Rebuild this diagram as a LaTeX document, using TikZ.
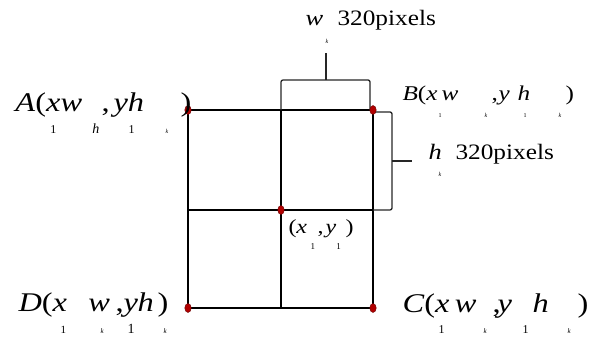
\documentclass[tikz,border=0pt]{standalone}
\usepackage{fontspec}
\usepackage{graphicx}
\setmainfont{Liberation Serif}
\newcommand\hs[1]{\scalebox{1.2}[1]{#1}}
\newcommand\putat[2]{\makebox[0pt][l]{\hspace*{#1}#2}}
% \lo{dx}{drop}{size}{text}
\newcommand\lo[4]{\putat{#1}{\raisebox{-#2}{\fontsize{#3}{#3}\selectfont #4}}}
\tikzset{
  gridline/.style={line width=1.5pt, black},
  braceline/.style={line width=1.3pt, black!85, rounded corners=2pt},
  dot/.style={ellipse, draw=red!40!black, fill=red!70!black, minimum width=6.5pt, minimum height=9pt, inner sep=0pt},
  lbl/.style={anchor=base west, inner sep=0pt, outer sep=0pt, text=black},
}
\usetikzlibrary{shapes.geometric}
\begin{document}
\begin{tikzpicture}[x=1pt,y=-1pt]
\useasboundingbox (0,0) rectangle (591,339);
% corners
\coordinate (A) at (188,110);
\coordinate (B) at (373,110);
\coordinate (C) at (373,308);
\coordinate (D) at (188,308);
\coordinate (T) at (281,110);
\coordinate (Bo) at (281,308);
\coordinate (L) at (188,210);
\coordinate (R) at (373,210);
\coordinate (M) at (281,210);
\draw[gridline] (A) rectangle (C);
\draw[gridline] (T) -- (Bo);
\draw[gridline] (L) -- (R);
% top brace
\coordinate (tbR) at (370,110);
\coordinate (tbM) at (326,80);
\coordinate (tbS) at (326,53);
\draw[braceline] (T) |- (tbM) -| (tbR);
\draw[braceline] (tbM) -- (tbS);
% right brace
\coordinate (rbT) at (373,112);
\coordinate (rbM) at (392,161);
\coordinate (rbS) at (412,161);
\draw[braceline] (rbT) -| (rbM) |- (R);
\draw[braceline, rounded corners=0pt] (rbM) -- (rbS);
% dots
\node[dot] (dA) at (A) {};
\node[dot] (dB) at (B) {};
\node[dot] (dC) at (C) {};
\node[dot] (dD) at (D) {};
\node[dot] (dM) at (M) {};
% labels
\node[lbl] (labA) at (15,112) {\fontsize{27}{27}\selectfont
  \putat{0pt}{\hs{\textit{A}(\textit{xw}}}\putat{86pt}{\hs{,}}\putat{98pt}{\hs{\textit{yh}}}\putat{165pt}{\hs{)}}%
  \lo{35pt}{22pt}{12}{1}\lo{77pt}{22pt}{14}{\textit{h}}\lo{113pt}{22pt}{12}{1}\lo{150pt}{22pt}{6}{\textit{k}}};
\node[lbl] (labB) at (402,101) {\fontsize{21}{21}\selectfont
  \putat{0pt}{\hs{\textit{B}(\textit{x\,w}}}\putat{89pt}{\hs{,}}\putat{96pt}{\hs{\textit{y}}}\putat{115pt}{\hs{\textit{h}}}\putat{163pt}{\hs{)}}%
  \lo{36pt}{17pt}{6}{1}\lo{82pt}{17pt}{6}{\textit{k}}\lo{121pt}{17pt}{6}{1}\lo{156pt}{17pt}{6}{\textit{k}}};
\node[lbl] (labC) at (402,312) {\fontsize{27}{27}\selectfont
  \putat{0pt}{\hs{\textit{C}(\textit{x\,w}}}\putat{90pt}{\hs{,}}\putat{95pt}{\hs{\textit{y}}}\putat{130pt}{\hs{\textit{h}}}\putat{175pt}{\hs{)}}%
  \lo{36pt}{21pt}{12}{1}\lo{81pt}{21pt}{7}{\textit{k}}\lo{120pt}{21pt}{12}{1}\lo{165pt}{21pt}{7}{\textit{k}}};
\node[lbl] (labD) at (18,311) {\fontsize{27}{27}\selectfont
  \putat{0pt}{\hs{\textit{D}(\textit{x}}}\putat{70pt}{\hs{\textit{w}}}\putat{97pt}{\hs{,}}\putat{105pt}{\hs{\textit{y}}}\putat{119pt}{\hs{\textit{h}}}\putat{139pt}{\hs{)}}%
  \lo{42pt}{22pt}{11}{1}\lo{82pt}{22pt}{7}{\textit{k}}\lo{109pt}{22pt}{14}{1}\lo{145pt}{22pt}{7}{\textit{k}}};
\node[lbl] (labM) at (288,233) {\fontsize{20}{20}\selectfont
  \putat{0pt}{\hs{(\textit{x}}}\putat{29pt}{\hs{,}}\putat{37pt}{\hs{\textit{y}}}\putat{57pt}{\hs{)}}%
  \lo{22pt}{17pt}{9}{1}\lo{48pt}{17pt}{9}{1}};
% size labels
\node[lbl] (labW) at (305,26) {\fontsize{22}{22}\selectfont
  \putat{0pt}{\hs{\textit{w}}}\putat{32pt}{\scalebox{1.15}[1]{320pixels}}\lo{20pt}{18pt}{6}{\textit{k}}};
\node[lbl] (labH) at (428,160) {\fontsize{22}{22}\selectfont
  \putat{0pt}{\hs{\textit{h}}}\putat{27pt}{\scalebox{1.15}[1]{320pixels}}\lo{10pt}{17pt}{6}{\textit{k}}};
\end{tikzpicture}
\end{document}
